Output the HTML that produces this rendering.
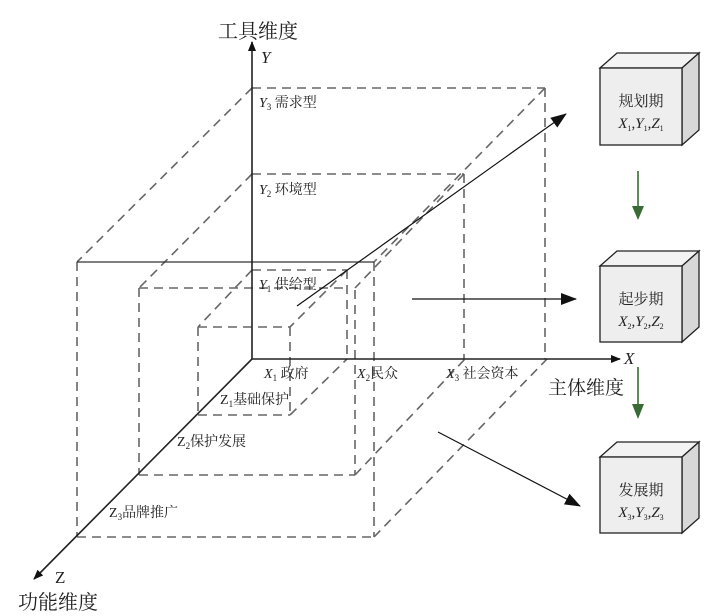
<!DOCTYPE html>
<html><head><meta charset="utf-8"><style>
html,body{margin:0;padding:0;background:#fff;}
svg{display:block;}
text{font-family:"Liberation Serif","Noto Serif CJK SC","Noto Sans CJK SC",serif;fill:#222;}
.i{font-style:italic;}
</style></head><body>
<svg width="720" height="616" viewBox="0 0 720 616" xmlns="http://www.w3.org/2000/svg">
<defs>
<marker id="a" markerWidth="10" markerHeight="8" refX="9" refY="4" orient="auto" markerUnits="userSpaceOnUse"><path d="M0,0 L10,4 L0,8 Z" fill="#111"/></marker>
<marker id="big" markerWidth="16" markerHeight="12" refX="15" refY="6" orient="auto" markerUnits="userSpaceOnUse"><path d="M0,0 L16,6 L0,12 Z" fill="#111"/></marker>
</defs>
<g stroke="#666" stroke-width="1.6" stroke-dasharray="9,6" fill="none">
<line x1="252" y1="88" x2="545" y2="88"/>
<line x1="252" y1="88" x2="77" y2="262"/>
<line x1="545" y1="88" x2="374" y2="262"/>
<line x1="545" y1="88" x2="545" y2="359"/>
<line x1="77" y1="262" x2="77" y2="537"/>
<line x1="374" y1="262" x2="374" y2="537"/>
<line x1="77" y1="537" x2="374" y2="537"/>
<line x1="374" y1="537" x2="547" y2="359"/>
<line x1="252" y1="174" x2="464" y2="174"/>
<line x1="252" y1="174" x2="139" y2="288"/>
<line x1="464" y1="174" x2="355" y2="288"/>
<line x1="464" y1="174" x2="464" y2="359"/>
<line x1="139" y1="288" x2="347" y2="288"/>
<line x1="139" y1="288" x2="139" y2="475"/>
<line x1="355" y1="290" x2="355" y2="475"/>
<line x1="139" y1="475" x2="355" y2="475"/>
<line x1="355" y1="475" x2="465" y2="359"/>
<line x1="252" y1="270" x2="347" y2="270"/>
<line x1="252" y1="270" x2="198" y2="327"/>
<line x1="347" y1="270" x2="290" y2="327"/>
<line x1="347" y1="270" x2="347" y2="359"/>
<line x1="198" y1="327" x2="290" y2="327"/>
<line x1="198" y1="327" x2="198" y2="415"/>
<line x1="290" y1="327" x2="290" y2="415"/>
<line x1="198" y1="415" x2="290" y2="415"/>
<line x1="290" y1="415" x2="347" y2="359"/>
</g>
<line x1="77" y1="262" x2="374" y2="262" stroke="#333" stroke-width="1.3"/>
<g stroke="#222" stroke-width="1.6" fill="none">
<line x1="252" y1="359" x2="252" y2="42" marker-end="url(#a)"/>
<line x1="252" y1="359" x2="620" y2="359" marker-end="url(#a)"/>
<line x1="252" y1="359" x2="34" y2="579" marker-end="url(#a)"/>
</g>
<g stroke="#111" stroke-width="1.2" fill="none">
<line x1="297" y1="306" x2="566" y2="114" marker-end="url(#big)"/>
<line x1="412" y1="299" x2="576" y2="299" marker-end="url(#big)"/>
<line x1="438" y1="432" x2="580" y2="506" marker-end="url(#big)"/>
</g>
<text x="218" y="38" font-size="20">工具维度</text>
<text x="261" y="63" font-size="17" class="i">Y</text>
<text x="624" y="364" font-size="17" class="i">X</text>
<text x="548" y="394" font-size="19">主体维度</text>
<text x="55" y="583" font-size="17">Z</text>
<text x="18" y="609" font-size="20">功能维度</text>
<text x="259" y="107" font-size="14"><tspan class="i">Y</tspan><tspan font-size="9" dy="3">3</tspan><tspan dy="-3"> 需求型</tspan></text>
<text x="259" y="194" font-size="14"><tspan class="i">Y</tspan><tspan font-size="9" dy="3">2</tspan><tspan dy="-3"> 环境型</tspan></text>
<text x="259" y="289" font-size="14"><tspan class="i">Y</tspan><tspan font-size="9" dy="3">1</tspan><tspan dy="-3"> 供给型</tspan></text>
<text x="264" y="378" font-size="14"><tspan class="i">X</tspan><tspan font-size="9" dy="3">1</tspan><tspan dy="-3"> 政府</tspan></text>
<text x="357" y="378" font-size="14"><tspan class="i">X</tspan><tspan font-size="9" dy="3">2</tspan><tspan dy="-3">民众</tspan></text>
<text x="446" y="378" font-size="14"><tspan class="i">X</tspan><tspan font-size="9" dy="3">3</tspan><tspan dy="-3"> 社会资本</tspan></text>
<text x="220" y="404" font-size="14">Z<tspan font-size="9" dy="3">1</tspan><tspan dy="-3">基础保护</tspan></text>
<text x="177" y="446" font-size="14">Z<tspan font-size="9" dy="3">2</tspan><tspan dy="-3">保护发展</tspan></text>
<text x="109" y="517" font-size="14">Z<tspan font-size="9" dy="3">3</tspan><tspan dy="-3">品牌推广</tspan></text>
<g stroke="#222" stroke-width="1.3">
<g>
<path d="M600,68 L617,53 L699,53 L682,68 Z" fill="#f3f3f3"/>
<path d="M682,68 L699,53 L699,130 L682,145 Z" fill="#d8d8d8"/>
<rect x="600" y="68" width="82" height="77" fill="#eeeeee"/>
</g>
<g>
<path d="M600,266 L617,251 L699,251 L682,266 Z" fill="#f3f3f3"/>
<path d="M682,266 L699,251 L699,327 L682,342 Z" fill="#d8d8d8"/>
<rect x="600" y="266" width="82" height="76" fill="#eeeeee"/>
</g>
<g>
<path d="M600,457 L617,442 L699,442 L682,457 Z" fill="#f3f3f3"/>
<path d="M682,457 L699,442 L699,518 L682,533 Z" fill="#d8d8d8"/>
<rect x="600" y="457" width="82" height="76" fill="#eeeeee"/>
</g>
</g>
<text x="641" y="106" font-size="15" text-anchor="middle">规划期</text>
<text x="641" y="128" font-size="15" text-anchor="middle"><tspan class="i">X</tspan><tspan font-size="8" dy="3">1</tspan><tspan dy="-3">,</tspan><tspan class="i">Y</tspan><tspan font-size="8" dy="3">1</tspan><tspan dy="-3">,</tspan><tspan class="i">Z</tspan><tspan font-size="8" dy="3">1</tspan></text>
<text x="641" y="304" font-size="15" text-anchor="middle">起步期</text>
<text x="641" y="326" font-size="15" text-anchor="middle"><tspan class="i">X</tspan><tspan font-size="8" dy="3">2</tspan><tspan dy="-3">,</tspan><tspan class="i">Y</tspan><tspan font-size="8" dy="3">2</tspan><tspan dy="-3">,</tspan><tspan class="i">Z</tspan><tspan font-size="8" dy="3">2</tspan></text>
<text x="641" y="495" font-size="15" text-anchor="middle">发展期</text>
<text x="641" y="517" font-size="15" text-anchor="middle"><tspan class="i">X</tspan><tspan font-size="8" dy="3">3</tspan><tspan dy="-3">,</tspan><tspan class="i">Y</tspan><tspan font-size="8" dy="3">3</tspan><tspan dy="-3">,</tspan><tspan class="i">Z</tspan><tspan font-size="8" dy="3">3</tspan></text>
<g stroke="#3a6b35" stroke-width="1.6">
<line x1="638" y1="171" x2="638" y2="208"/>
<line x1="638" y1="367" x2="638" y2="406"/>
</g>
<g fill="#3a6b35">
<polygon points="632,206 644,206 638,220"/>
<polygon points="632,404 644,404 638,419"/>
</g>
</svg>
</body></html>
